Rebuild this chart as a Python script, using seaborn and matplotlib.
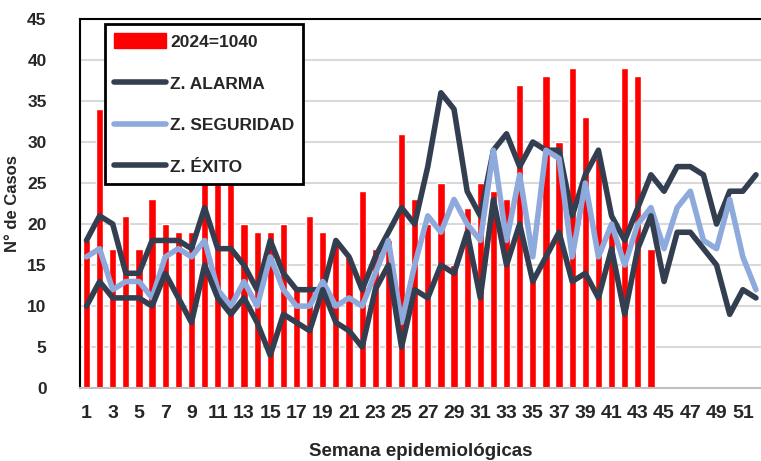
import numpy as np
import pandas as pd
import seaborn as sns
import matplotlib.pyplot as plt
from matplotlib.patches import Patch
from matplotlib.lines import Line2D

# Semanas epidemiológicas y casos 2024
semanas = list(range(1, 53))
casos_2024 = [18, 34, 17, 21, 17, 23, 20, 19, 19, 29, 30, 29, 20, 19, 19, 20, 12, 21, 19, 18,
              16, 24, 17, 18, 31, 23, 20, 25, 15, 22, 25, 24, 23, 37, 14, 38, 30, 39, 33, 28,
              20, 39, 38, 17]

# Canal endémico
z_alarma = [18, 21, 20, 14, 14, 18, 18, 18, 17, 22, 17, 17, 15, 12, 18, 14, 12, 12, 12, 18,
            16, 12, 16, 19, 22, 20, 27, 36, 34, 24, 21, 29, 31, 27, 30, 29, 29, 21, 26, 29,
            21, 18, 22, 26, 24, 27, 27, 26, 20, 24, 24, 26]
z_seguridad = [16, 17, 12, 13, 13, 11, 16, 17, 16, 18, 12, 10, 13, 10, 16, 12, 10, 10, 13, 10,
               11, 10, 14, 18, 8, 15, 21, 19, 23, 20, 18, 29, 18, 26, 16, 29, 28, 16, 25, 16,
               20, 15, 20, 22, 17, 22, 24, 18, 17, 23, 16, 12]
z_exito = [10, 13, 11, 11, 11, 10, 14, 11, 8, 15, 11, 9, 11, 8, 4, 9, 8, 7, 12, 8,
           7, 5, 12, 15, 5, 12, 11, 15, 14, 19, 11, 23, 15, 20, 13, 16, 19, 13, 14, 11,
           17, 9, 17, 21, 13, 19, 19, 17, 15, 9, 12, 11]

casos = casos_2024 + [np.nan] * (len(semanas) - len(casos_2024))
df = pd.DataFrame({"semana": semanas, "casos": casos, "alarma": z_alarma,
                   "seguridad": z_seguridad, "exito": z_exito})

sns.set_style("white")
plt.rcParams["font.family"] = ["Liberation Sans", "DejaVu Sans"]

c_oscuro = "#333F50"
c_claro = "#8EA9DB"

fig = plt.figure(figsize=(7.61, 4.61), dpi=100)
ax = fig.add_axes([0.105, 0.158, 0.897, 0.801])

ax.yaxis.grid(True, color="#D9D9D9", linewidth=1.5, zorder=0)
ax.set_axisbelow(True)

sns.barplot(data=df.dropna(), x="semana", y="casos", color="#FF0000", width=0.55,
            native_scale=True, saturation=1, ax=ax, zorder=2)
sns.lineplot(data=df, x="semana", y="alarma", color=c_oscuro, linewidth=4, ax=ax, zorder=3)
sns.lineplot(data=df, x="semana", y="seguridad", color=c_claro, linewidth=4, ax=ax, zorder=3)
sns.lineplot(data=df, x="semana", y="exito", color=c_oscuro, linewidth=4, ax=ax, zorder=4)

ax.set_xlim(0.5, 52.5)
ax.set_ylim(0, 45)
ax.set_yticks(range(0, 46, 5))
ax.set_xticks(range(1, 53, 2))
ax.tick_params(axis="both", length=0)
ax.tick_params(axis="x", pad=12)
ax.tick_params(axis="y", pad=24)
for lab in ax.get_xticklabels():
    lab.set_fontweight("bold")
    lab.set_fontsize(14)
for lab in ax.get_yticklabels():
    lab.set_fontweight("bold")
    lab.set_fontsize(12.5)

ax.set_xlabel("Semana epidemiológicas", fontsize=13.5, fontweight="bold", labelpad=15)
ax.set_ylabel("N° de Casos", fontsize=12, fontweight="bold")
ax.yaxis.set_label_coords(-0.088, 0.5)

for s in ["left", "top"]:
    ax.spines[s].set_color("black")
    ax.spines[s].set_linewidth(1.5)
ax.spines["right"].set_visible(False)
ax.spines["bottom"].set_color("#BFBFBF")
ax.spines["bottom"].set_linewidth(1.5)

handles = [Patch(color="#FF0000", label="2024=1040"),
           Line2D([], [], color=c_oscuro, linewidth=4, solid_capstyle="round", label="Z. ALARMA"),
           Line2D([], [], color=c_claro, linewidth=4, solid_capstyle="round", label="Z. SEGURIDAD"),
           Line2D([], [], color=c_oscuro, linewidth=4, solid_capstyle="round", label="Z. ÉXITO")]
leg = ax.legend(handles=handles, loc="upper left", bbox_to_anchor=(0.032, 0.995),
                prop={"weight": "bold", "size": 12.5}, handlelength=3.0, handleheight=1.0,
                labelspacing=1.45, handletextpad=0.25, borderpad=0.5, borderaxespad=0.2,
                fancybox=False, framealpha=1, edgecolor="black")
leg.get_frame().set_linewidth(2)

fig.savefig("out.png", dpi=100)
